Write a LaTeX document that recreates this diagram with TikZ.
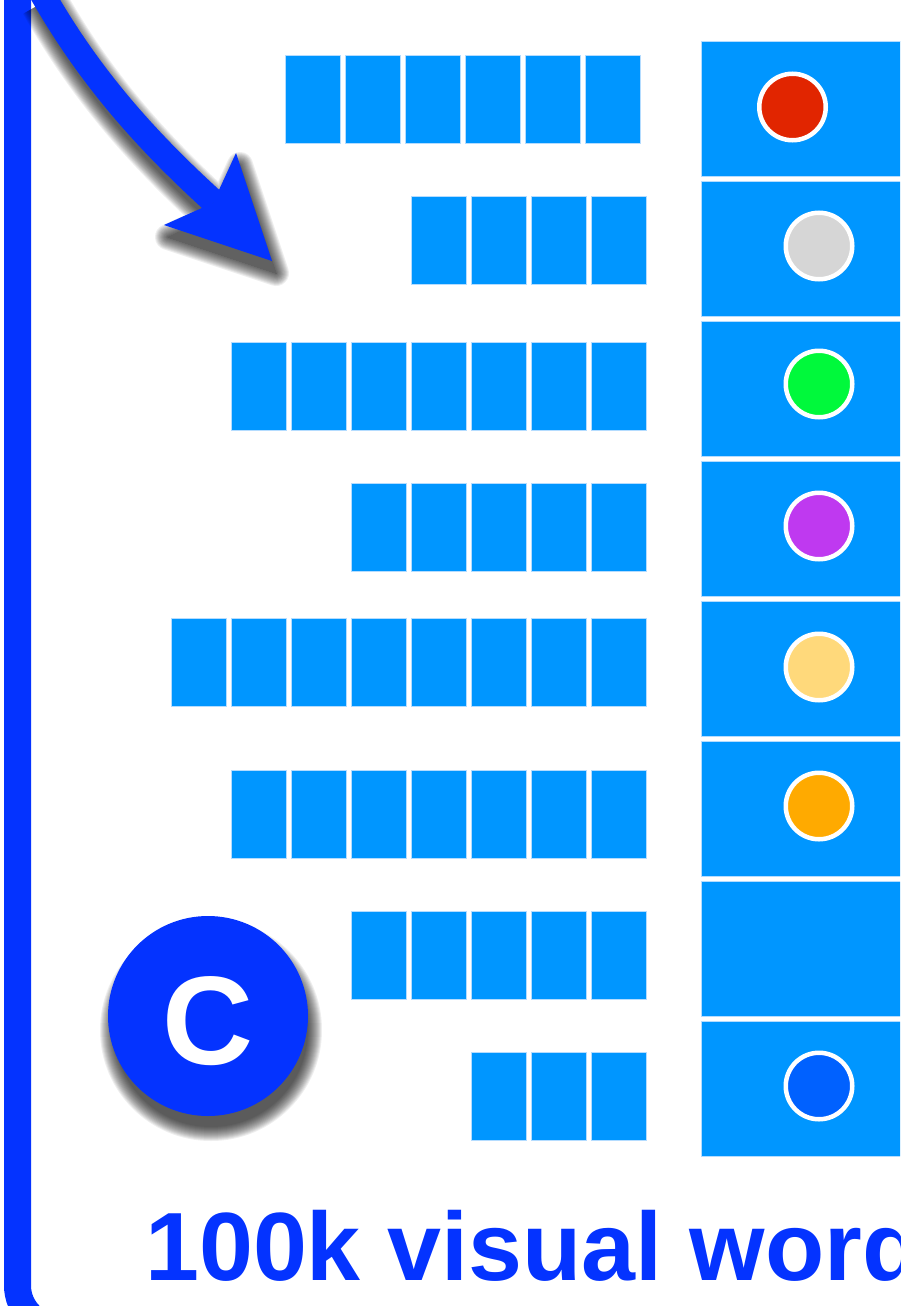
\documentclass[tikz,border=0pt]{standalone}
\usepackage{fontspec}
\setmainfont{Liberation Sans}
\definecolor{frameblue}{HTML}{0433FF}
\definecolor{cellblue}{HTML}{0096FF}
\definecolor{celledge}{HTML}{B4DCFF}
\definecolor{dotred}{HTML}{E12500}
\definecolor{dotgrey}{HTML}{D6D6D6}
\definecolor{dotgreen}{HTML}{00F93B}
\definecolor{dotpurple}{HTML}{BF39F0}
\definecolor{dotyellow}{HTML}{FFD97B}
\definecolor{dotorange}{HTML}{FFAA00}
\definecolor{dotblue}{HTML}{0061FF}
\begin{document}
\begin{tikzpicture}[x=1pt,y=-1pt,
  cell/.style={rectangle, fill=cellblue, draw=celledge, line width=0.8pt,
    minimum width=55pt, minimum height=88pt, inner sep=0pt},
  bin/.style={rectangle, fill=cellblue, draw=celledge, line width=0.8pt,
    minimum width=230pt, minimum height=134.5pt, inner sep=0pt},
  dot/.style={circle, draw=white, line width=4.5pt, minimum size=66.5pt, inner sep=0pt},
  badge/.style={circle, fill=frameblue, minimum size=200pt, inner sep=0pt},
  framestyle/.style={draw=frameblue, line width=27pt, rounded corners=42pt},
  arrowshaft/.style={draw=frameblue, line width=25pt},
  arrowhead/.style={fill=frameblue},
  shadowlayer/.style={transparency group, opacity=0.065}
]
\useasboundingbox (0,0) rectangle (900,1306);
\clip (0,0) rectangle (900,1306);

% frame
\coordinate (fTop) at (17.5,-100);
\coordinate (fCorner) at (17.5,1327.5);
\coordinate (fRight) at (1000,1327.5);
\draw[framestyle] (fTop) -- (fCorner) -- (fRight);

% arrow coordinates
\coordinate (aS) at (40,-10);
\coordinate (aC1) at (85,70);
\coordinate (aC2) at (140,135);
\coordinate (aE) at (214,202);
\coordinate (aTip) at (272,261);
\coordinate (aB1) at (236,153);
\coordinate (aN) at (213,203);
\coordinate (aB2) at (164,225);

% arrow shadow
\foreach \b [evaluate=\b as \lw using 22+\b] in {26,24,...,0} {
  \begin{scope}[shadowlayer]
    \draw[black, line width=\lw pt]
      ([shift={(4,12)}]aS) .. controls ([shift={(4,12)}]aC1) and ([shift={(4,12)}]aC2) .. ([shift={(4,12)}]aE);
    \filldraw[black, line width=\b pt, line join=round]
      ([shift={(4,12)}]aTip) -- ([shift={(4,12)}]aB1) -- ([shift={(4,12)}]aN) -- ([shift={(4,12)}]aB2) -- cycle;
  \end{scope}
}
% arrow
\draw[arrowshaft] (aS) .. controls (aC1) and (aC2) .. (aE);
\fill[arrowhead] (aTip) -- (aB1) -- (aN) -- (aB2) -- cycle;

% rows of visual-word cells: count / right end / top
\foreach \n/\R/\T [count=\r] in {6/640/55, 4/646/196, 7/646/342, 5/646/483,
                                 8/646/618.5, 7/646/770, 5/646/911, 3/646/1052} {
  \foreach \j in {1,...,\n} {
    \node[cell] (r\r-\j) at ({\R-27.5-60*(\j-1)}, {\T+44}) {};
  }
}

% bins on the right
\foreach \k in {1,...,8} {
  \node[bin] (b\k) at (816, {41.5+140*(\k-1)+67.25}) {};
}

% dots
\node[dot, fill=dotred]    (d1) at (792.5,107) {};
\node[dot, fill=dotgrey]   (d2) at (819,246) {};
\node[dot, fill=dotgreen]  (d3) at (819,384) {};
\node[dot, fill=dotpurple] (d4) at (819,526) {};
\node[dot, fill=dotyellow] (d5) at (819,667) {};
\node[dot, fill=dotorange] (d6) at (819,806) {};
\node[dot, fill=dotblue]   (d8) at (819,1086) {};

% badge shadow
\foreach \b in {28,26,...,0} {
  \begin{scope}[shadowlayer]
    \fill[black] (211,1030) circle ({97+\b/2});
  \end{scope}
}
\node[badge] (badge) at (208,1016) {};
\node[text=white, font=\fontsize{126}{126}\selectfont\bfseries, inner sep=0pt] (badgeC) at (208,1021) {C};

% caption
\node[anchor=base west, text=frameblue, font=\fontsize{97}{97}\selectfont\bfseries, inner sep=0pt]
  (caption) at (145,1280) {100k visual word};
\end{tikzpicture}
\end{document}
